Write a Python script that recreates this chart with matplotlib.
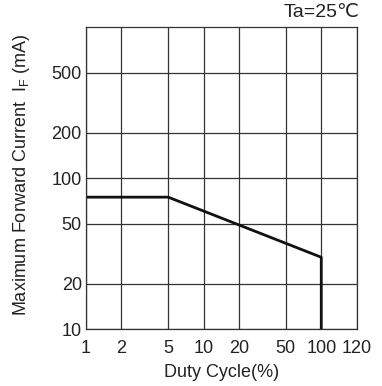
import matplotlib
matplotlib.use("Agg")
import matplotlib.pyplot as plt

plt.rcParams['font.family'] = ['Liberation Sans', 'DejaVu Sans']
plt.rcParams['mathtext.fontset'] = 'custom'
plt.rcParams['mathtext.rm'] = 'Liberation Sans'

# derating curve (duty cycle %, max forward current mA)
duty = [1, 5, 100, 100]
current = [75, 75, 30, 10]

# the x axis is log but the last column is labelled 120
x_ticks = [1, 2, 5, 10, 20, 50, 100, 200]
x_labels = ['1', '2', '5', '10', '20', '50', '100', '120']
y_ticks = [10, 20, 50, 100, 200, 500]
y_labels = ['10', '20', '50', '100', '200', '500']

fig = plt.figure(figsize=(3.82, 3.86), dpi=100)
ax = fig.add_axes([0.2251, 0.1469, 0.7086, 0.7824])

ax.set_xscale('log')
ax.set_yscale('log')
ax.set_xlim(1, 200)
ax.set_ylim(10, 1000)

ax.set_xticks(x_ticks)
ax.set_xticklabels(x_labels)
ax.set_yticks(y_ticks)
ax.set_yticklabels(y_labels)
ax.xaxis.set_minor_locator(matplotlib.ticker.NullLocator())
ax.yaxis.set_minor_locator(matplotlib.ticker.NullLocator())
ax.tick_params(length=0, labelsize=13, colors='#222222')
ax.tick_params(axis='x', pad=8)
ax.tick_params(axis='y', pad=3)

ax.grid(True, color='#333333', linewidth=0.9)
for s in ax.spines.values():
    s.set_color('#333333')
    s.set_linewidth(0.9)

ax.plot(duty, current, color='#111111', linewidth=2)

ax.set_xlabel('Duty Cycle(%)', fontsize=13, color='#222222', labelpad=5)
ax.set_ylabel(r'Maximum Forward Current  I$_\mathregular{F}$ (mA)',
              fontsize=13, color='#222222')
ax.yaxis.set_label_coords(-0.2, 0.51)
ax.text(1.012, 1.02, 'Ta=25℃', transform=ax.transAxes, ha='right', va='bottom',
        fontsize=14, color='#222222')

fig.savefig('out.png', dpi=100)
